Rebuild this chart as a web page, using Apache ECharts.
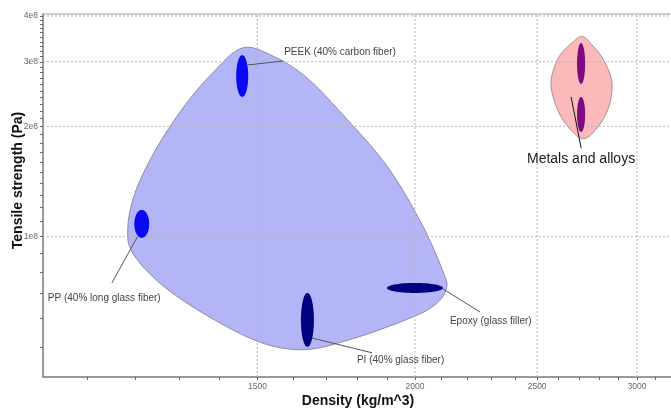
<!DOCTYPE html>
<html><head><meta charset="utf-8">
<script src="https://cdn.jsdelivr.net/npm/echarts@6/dist/echarts.min.js"></script>
<style>html,body{margin:0;padding:0;background:#fff}#c{width:671px;height:409px}</style>
</head><body><div id="c"></div>
<script>
// ---- axis ranges & ticks (real units) ----
const densityRange = [1014, 3311];
const strengthRange = [4.14e7, 4.05e8];
const densityTicks = [1100,1200,1300,1400,1500,1600,1700,1800,1900,2000,2100,2200,2300,2400,2500,2600,2700,2800,2900,3000,3100,3200,3300];
const densityLabels = [1500, 2000, 2500, 3000];
const strengthTicks = [5e7,6e7,7e7,8e7,9e7,1e8,1.1e8,1.2e8,1.3e8,1.4e8,1.5e8,1.6e8,1.7e8,1.8e8,1.9e8,2e8,2.1e8,2.2e8,2.3e8,2.4e8,2.5e8,2.6e8,2.7e8,2.8e8,2.9e8,3e8,3.1e8,3.2e8,3.3e8,3.4e8,3.5e8,3.6e8,3.7e8,3.8e8,3.9e8,4e8];
const strengthLabels = [1e8, 2e8, 3e8, 4e8];

// ---- family envelopes: [density, strength] ----
const polymerEnvelope = [
  [1458,3.27e8],[1540,3.12e8],[1640,2.72e8],[1760,2.12e8],[1900,1.56e8],
  [2020,1.10e8],[2100,8.2e7],[2118,7.2e7],[2060,6.4e7],[1930,5.78e7],[1770,5.22e7],
  [1640,4.92e7],[1520,5.1e7],[1390,5.9e7],[1265,7.3e7],[1195,9.0e7],[1184,1.06e8],
  [1200,1.32e8],[1245,1.72e8],[1310,2.25e8],[1380,2.78e8]
];
const metalEnvelope = [
  [2714,3.52e8],[2760,3.35e8],[2820,3.05e8],[2865,2.65e8],[2850,2.26e8],[2790,1.98e8],[2722,1.85e8],
  [2660,1.95e8],[2598,2.2e8],[2564,2.62e8],[2600,3.08e8],[2665,3.38e8]
];

// ---- materials: density range, strength range ----
const materialNames = ['PEEK (40% carbon fiber)','PP (40% long glass fiber)','Epoxy (glass filler)','PI (40% glass fiber)','Metal A','Metal B'];
const materialDensity = [[1443,1475],[1198,1231],[1900,2105],[1624,1663],[2689,2729],[2689,2729]];
const materialStrength = [[2.405e8,3.13e8],[0.992e8,1.183e8],[7.02e7,7.476e7],[5.0e7,7.02e7],[2.61e8,3.375e8],[1.93e8,2.405e8]];

// ---- annotations: text, leader start, leader end, text anchor (data units) ----
const annotText = ['PEEK (40% carbon fiber)','PP (40% long glass fiber)','Epoxy (glass filler)','PI (40% glass fiber)','Metals and alloys'];
const annotFrom = [[1474,2.94e8],[1205,1.0e8],[2105,7.2e7],[1657,5.29e7],[2660,2.405e8]];
const annotTo = [[1572,3.015e8],[1150,7.48e7],[2252,6.23e7],[1849,4.82e7],[2709,1.746e8]];
const annotAt = [[1575,3.19e8],[1023,6.8e7],[2132,5.89e7],[1799,4.61e7],[2454,1.629e8]];

// ---- styling ----
const materialColors = ['#0a0af2','#0a0af2','#000080','#000080','#7d0a82','#7d0a82'];
const L = Math.log10;
const FONT = '"Liberation Sans", Arial, sans-serif';

// closed Catmull-Rom curve through pixel points
function smoothClosed(pts, n) {
  const out = [], m = pts.length;
  for (let i = 0; i < m; i++) {
    const p0 = pts[(i - 1 + m) % m], p1 = pts[i], p2 = pts[(i + 1) % m], p3 = pts[(i + 2) % m];
    for (let s = 0; s < n; s++) {
      const t = s / n, t2 = t * t, t3 = t2 * t;
      const f = k => 0.5 * (2 * p1[k] + (-p0[k] + p2[k]) * t + (2 * p0[k] - 5 * p1[k] + 4 * p2[k] - p3[k]) * t2 + (-p0[k] + 3 * p1[k] - 3 * p2[k] + p3[k]) * t3);
      out.push([f(0), f(1)]);
    }
  }
  return out;
}

function envelope(points, fill, stroke) {
  return {
    type: 'custom', silent: true, animation: false, z: 1,
    data: [[L(points[0][0]), L(points[0][1])]],
    renderItem: (params, api) => ({
      type: 'polygon',
      shape: { points: smoothClosed(points.map(p => api.coord([L(p[0]), L(p[1])])), 12) },
      style: { fill: fill, stroke: stroke, lineWidth: 1 }
    })
  };
}

const gridLineSeries = {
  type: 'custom', silent: true, animation: false, z: 2,
  data: densityLabels.map(v => [L(v), 0]).concat(strengthLabels.map(v => [1, L(v)])),
  renderItem: (params, api) => {
    const isX = params.dataIndex < densityLabels.length;
    let p1, p2;
    if (isX) {
      const v = L(densityLabels[params.dataIndex]);
      p1 = api.coord([v, L(strengthRange[0])]); p2 = api.coord([v, L(strengthRange[1])]);
    } else {
      const v = L(strengthLabels[params.dataIndex - densityLabels.length]);
      p1 = api.coord([L(densityRange[0]), v]); p2 = api.coord([L(densityRange[1]), v]);
    }
    return { type: 'line', shape: { x1: p1[0], y1: p1[1], x2: p2[0], y2: p2[1] },
      style: { stroke: '#b5b5b5', lineWidth: 1, lineDash: [2, 2] } };
  }
};

const ellipseSeries = {
  type: 'custom', silent: true, animation: false, z: 3,
  data: materialNames.map((n, i) => [L(materialDensity[i][0]), L(materialDensity[i][1]), L(materialStrength[i][0]), L(materialStrength[i][1])]),
  renderItem: (params, api) => {
    const x0 = api.value(0), x1 = api.value(1), y0 = api.value(2), y1 = api.value(3);
    const cx = (x0 + x1) / 2, cy = (y0 + y1) / 2, ax = (x1 - x0) / 2, ay = (y1 - y0) / 2;
    const pts = [];
    for (let k = 0; k < 60; k++) {
      const t = k / 60 * Math.PI * 2;
      pts.push(api.coord([cx + ax * Math.cos(t), cy + ay * Math.sin(t)]));
    }
    return { type: 'polygon', shape: { points: pts }, style: { fill: materialColors[params.dataIndex] } };
  }
};

const annotSeries = {
  type: 'custom', silent: true, animation: false, z: 4,
  data: annotText.map((t, i) => [L(annotAt[i][0]), L(annotAt[i][1])]),
  renderItem: (params, api) => {
    const i = params.dataIndex;
    const a = api.coord([L(annotFrom[i][0]), L(annotFrom[i][1])]);
    const b = api.coord([L(annotTo[i][0]), L(annotTo[i][1])]);
    const t = api.coord([L(annotAt[i][0]), L(annotAt[i][1])]);
    const big = i === 4;
    return { type: 'group', children: [
      { type: 'line', shape: { x1: a[0], y1: a[1], x2: b[0], y2: b[1] },
        style: { stroke: big ? '#111' : '#555', lineWidth: 1 } },
      { type: 'text', x: t[0], y: t[1],
        style: { text: annotText[i], fill: big ? '#1a1a1a' : '#444', fontSize: big ? 14 : 10,
          fontFamily: FONT, fontWeight: 'normal', align: 'left', verticalAlign: 'middle' } }
    ]};
  }
};

const chart = echarts.init(document.getElementById('c'), null, { renderer: 'canvas' });
chart.setOption({
  animation: false,
  backgroundColor: '#fff',
  grid: { left: 43, right: -20, top: 14, bottom: 32, show: true, borderColor: '#a0a0a0', borderWidth: 1,
    backgroundColor: 'transparent', containLabel: false, outerBoundsMode: 'none' },
  xAxis: {
    type: 'value', min: L(densityRange[0]), max: L(densityRange[1]),
    axisLine: { show: true, lineStyle: { color: '#888', width: 1.5 } },
    axisTick: { show: true, customValues: densityTicks.map(L), length: 3, lineStyle: { color: '#666' } },
    axisLabel: { customValues: densityLabels.map(L), formatter: v => String(Math.round(Math.pow(10, v))),
      fontSize: 8.5, color: '#666', margin: 5, fontFamily: FONT },
    splitLine: { show: false },
    name: 'Density (kg/m^3)', nameLocation: 'middle', nameGap: 17, nameMoveOverlap: false,
    nameTextStyle: { fontSize: 14, fontWeight: 'bold', color: '#111', fontFamily: FONT, padding: [0, 18, 0, 0] }
  },
  yAxis: {
    type: 'value', min: L(strengthRange[0]), max: L(strengthRange[1]),
    axisLine: { show: true, lineStyle: { color: '#888', width: 1.5 } },
    axisTick: { show: true, customValues: strengthTicks.map(L), length: 3, lineStyle: { color: '#666' } },
    axisLabel: { customValues: strengthLabels.map(L), formatter: v => Math.round(Math.pow(10, v) / 1e8) + 'e8',
      fontSize: 8.5, color: '#666', margin: 5, fontFamily: FONT },
    splitLine: { show: false },
    name: 'Tensile strength (Pa)', nameLocation: 'middle', nameGap: 18, nameMoveOverlap: false,
    nameTextStyle: { fontSize: 14, fontWeight: 'bold', color: '#111', fontFamily: FONT, padding: [0, 0, 0, 30] }
  },
  series: [
    envelope(polymerEnvelope, '#b3b5f7', '#8a8aa8'),
    envelope(metalEnvelope, '#fbb9b9', '#a09090'),
    gridLineSeries,
    ellipseSeries,
    annotSeries
  ]
});
</script></body></html>
